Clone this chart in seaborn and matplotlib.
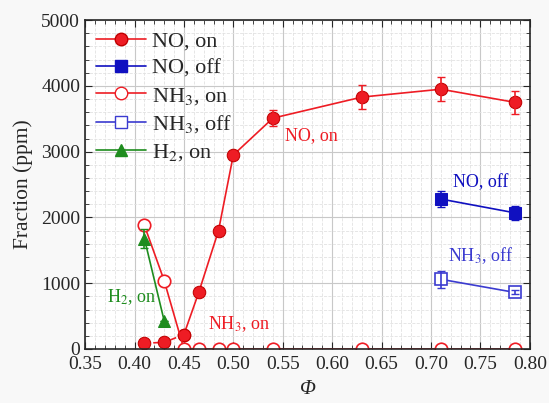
import matplotlib
matplotlib.use('Agg')
import matplotlib.pyplot as plt
import seaborn as sns
import pandas as pd
from matplotlib.ticker import MultipleLocator
from matplotlib.lines import Line2D

# data
phi_on = [0.41, 0.43, 0.45, 0.465, 0.485, 0.50, 0.54, 0.63, 0.71, 0.785]
no_on = [90, 100, 220, 860, 1800, 2950, 3510, 3830, 3950, 3750]
no_on_err = [0, 0, 0, 0, 0, 0, 120, 180, 180, 180]
nh3_on = [1880, 1040, 0, 0, 0, 0, 0, 0, 0, 0]

phi_off = [0.71, 0.785]
no_off = [2280, 2070]
no_off_err = [120, 110]
nh3_off = [1060, 860]
nh3_off_err = [130, 30]

phi_h2 = [0.41, 0.43]
h2_on = [1680, 430]
h2_on_err = [150, 0]

RED = '#ee1c24'
BLUE = '#1010c0'
LBLUE = '#3b3bd0'
GREEN = '#1e8c1e'

sns.set_style('ticks')
plt.rcParams['font.family'] = ['Liberation Serif', 'DejaVu Serif']
plt.rcParams['mathtext.fontset'] = 'stix'

df_on = pd.DataFrame({'phi': phi_on, 'NO': no_on, 'NH3': nh3_on, 'err': no_on_err})
df_off = pd.DataFrame({'phi': phi_off, 'NO': no_off, 'NH3': nh3_off})
df_h2 = pd.DataFrame({'phi': phi_h2, 'H2': h2_on})

fig = plt.figure(figsize=(5.49, 4.03), dpi=100)
fig.patch.set_facecolor('#f8f8f8')
ax = fig.add_axes([0.155, 0.134, 0.81, 0.816])

# NO on: dashed at lean end, solid after
sns.lineplot(data=df_on.iloc[:3], x='phi', y='NO', ax=ax, color=RED, lw=1.2,
             linestyle='--', marker='o', markersize=9, markeredgecolor='#c00000')
sns.lineplot(data=df_on.iloc[2:], x='phi', y='NO', ax=ax, color=RED, lw=1.2,
             marker='o', markersize=9, markeredgecolor='#c00000')
ax.errorbar(df_on['phi'], df_on['NO'], yerr=df_on['err'], fmt='none',
            ecolor=RED, capsize=3, lw=1.2)

# NH3 on
sns.lineplot(data=df_on, x='phi', y='NH3', ax=ax, color=RED, lw=1.2,
             marker='o', markersize=9, markerfacecolor='white',
             markeredgecolor=RED, markeredgewidth=1.2)

# off series
sns.lineplot(data=df_off, x='phi', y='NO', ax=ax, color=BLUE, lw=1.2,
             marker='s', markersize=8, markeredgecolor=BLUE)
ax.errorbar(phi_off, no_off, yerr=no_off_err, fmt='none', ecolor=BLUE, capsize=3, lw=1.2)
sns.lineplot(data=df_off, x='phi', y='NH3', ax=ax, color=LBLUE, lw=1.2,
             marker='s', markersize=8, markerfacecolor='white',
             markeredgecolor=LBLUE, markeredgewidth=1.2)
ax.errorbar(phi_off, nh3_off, yerr=nh3_off_err, fmt='none', ecolor=LBLUE, capsize=3, lw=1.2)

# H2 on
sns.lineplot(data=df_h2, x='phi', y='H2', ax=ax, color=GREEN, lw=1.2,
             marker='^', markersize=9, markeredgecolor=GREEN)
ax.errorbar(phi_h2, h2_on, yerr=h2_on_err, fmt='none', ecolor=GREEN, capsize=3, lw=1.2)

ax.set_xlim(0.35, 0.80)
ax.set_ylim(0, 5000)
ax.xaxis.set_major_locator(MultipleLocator(0.05))
ax.xaxis.set_minor_locator(MultipleLocator(0.01))
ax.yaxis.set_major_locator(MultipleLocator(1000))
ax.yaxis.set_minor_locator(MultipleLocator(200))
ax.set_xticklabels([f'{v:.2f}' for v in ax.get_xticks()])
ax.tick_params(which='both', direction='in', top=True, right=True, labelsize=14)
ax.tick_params(which='major', length=5)
ax.tick_params(which='minor', length=3)
ax.tick_params(axis='x', pad=5)
ax.grid(which='major', color='#c8c8c8', lw=0.8)
ax.grid(which='minor', color='#e2e2e2', lw=0.6, linestyle='--')
for s in ax.spines.values():
    s.set_linewidth(1.2)
ax.set_xlabel('Φ', fontsize=15, style='italic', labelpad=5)
ax.set_ylabel('Fraction (ppm)', fontsize=15.5, labelpad=6)

# in-plot labels
ax.text(0.552, 3180, 'NO, on', color=RED, fontsize=13)
ax.text(0.722, 2460, 'NO, off', color=BLUE, fontsize=13)
ax.text(0.717, 1330, 'NH$_3$, off', color=LBLUE, fontsize=13)
ax.text(0.474, 300, 'NH$_3$, on', color=RED, fontsize=13)
ax.text(0.372, 720, 'H$_2$, on', color=GREEN, fontsize=13)

handles = [
    Line2D([], [], color=RED, marker='o', markersize=9, markeredgecolor='#c00000', lw=1.2),
    Line2D([], [], color=BLUE, marker='s', markersize=8, lw=1.2),
    Line2D([], [], color=RED, marker='o', markersize=9, markerfacecolor='white', lw=1.2),
    Line2D([], [], color=LBLUE, marker='s', markersize=8, markerfacecolor='white', lw=1.2),
    Line2D([], [], color=GREEN, marker='^', markersize=9, lw=1.2),
]
labels = ['NO, on', 'NO, off', 'NH$_3$, on', 'NH$_3$, off', 'H$_2$, on']
ax.legend(handles, labels, loc='upper left', frameon=False, fontsize=16,
          handlelength=2.25, handletextpad=0.25, labelspacing=0.3,
          borderaxespad=0.2, borderpad=0.3)

plt.savefig('out.png', dpi=100, facecolor=fig.get_facecolor())
